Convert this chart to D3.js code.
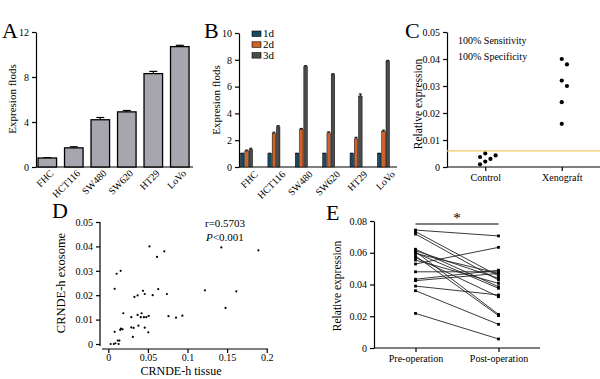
<!DOCTYPE html>
<html>
<head>
<meta charset="utf-8">
<script src="https://cdn.jsdelivr.net/npm/d3@7"></script>
<style>
  body { margin: 0; background: #fff; }
  svg { display: block; font-family: "Liberation Serif", "DejaVu Serif", serif; }
  .axis path, .axis line { stroke: #000; stroke-width: 1.2; }
  .axis text { font-size: 10px; fill: #000; }
</style>
</head>
<body>
<div id="chart"></div>
<script>
// A: CRNDE-h in cell lines
const cellLines = ['FHC', 'HCT116', 'SW480', 'SW620', 'HT29', 'LoVo']
const foldA = [0.8, 1.7, 4.2, 4.9, 8.3, 10.7]
const errA = [0.03, 0.1, 0.2, 0.12, 0.2, 0.12]

// B: time course
const days = ['1d', '2d', '3d']
const day1 = [1, 1, 1, 1, 1, 1]
const day2 = [1.2, 2.5, 2.8, 2.55, 2.1, 2.65]
const day3 = [1.3, 3.0, 7.5, 6.9, 5.3, 7.9]
const err1 = [0.03, 0.03, 0.03, 0.03, 0.03, 0.03]
const err2 = [0.06, 0.1, 0.08, 0.07, 0.12, 0.1]
const err3 = [0.1, 0.08, 0.06, 0.06, 0.15, 0.06]

// C: control vs xenograft
const groupsC = ['Control', 'Xenograft']
const controlExpr = [0.005, 0.0043, 0.0037, 0.003, 0.002, 0.001]
const xenoExpr = [0.040, 0.038, 0.032, 0.030, 0.024, 0.016]
const cutoff = 0.006

// D: tissue vs exosome
const tissue = [0.003, 0.007, 0.009, 0.012, 0.014, 0.013, 0.008, 0.015, 0.016, 0.018, 0.008, 0.0105, 0.0156, 0.019,
  0.029, 0.029, 0.032, 0.031, 0.033, 0.037, 0.037, 0.038, 0.041, 0.042, 0.0438, 0.046, 0.045, 0.048, 0.046,
  0.0505, 0.051, 0.052, 0.056, 0.0615, 0.063, 0.0707, 0.074, 0.076, 0.0855, 0.0935, 0.122, 0.1427, 0.148, 0.1617, 0.1895]
const exosome = [0, 0, 0.0003, 0.0014, 0.0014, 0, 0.005, 0.0058, 0.0063, 0.006, 0.0226, 0.0288, 0.030, 0.0126,
  0.011, 0.0068, 0.0066, 0.0029, 0.0193, 0.0199, 0.0119, 0.0075, 0.011, 0.0126, 0.0218, 0.0205, 0.011, 0.011, 0.0067,
  0.0048, 0.0115, 0.040, 0.020, 0.0357, 0.0225, 0.038, 0.0205, 0.0114, 0.0108, 0.0116, 0.022, 0.0396, 0.0148, 0.0216, 0.0384]

// E: paired pre/post operation
const groupsE = ['Pre-operation', 'Post-operation']
const preOp = [0.0743, 0.0733, 0.0718, 0.0622, 0.0613, 0.0607, 0.0600, 0.0596, 0.0580, 0.0570, 0.0554, 0.0529, 0.0480, 0.0433, 0.0424, 0.0390, 0.0361, 0.0218]
const postOp = [0.0706, 0.0454, 0.0428, 0.0386, 0.0439, 0.0212, 0.0376, 0.0470, 0.0204, 0.0323, 0.0407, 0.0634, 0.0480, 0.0490, 0.0470, 0.0334, 0.0149, 0.0057]

const serif = '"Liberation Serif", "DejaVu Serif", serif'

const svg = d3.select('#chart').append('svg')
  .attr('width', 600)
  .attr('height', 379)

const fmt = d => d === 0 ? '0' : String(+d.toFixed(2))

function axis (gen, transform, size = 10) {
  return svg.append('g')
    .attr('class', 'axis')
    .attr('transform', transform)
    .call(gen)
    .attr('font-family', serif)
    .attr('font-size', size)
}

function panelLabel (t, x, y) {
  svg.append('text').attr('x', x).attr('y', y).attr('font-size', 22).text(t)
}

function yTitle (t, x, y, size) {
  svg.append('text')
    .attr('transform', `translate(${x},${y}) rotate(-90)`)
    .attr('text-anchor', 'middle')
    .attr('dy', '0.35em')
    .attr('font-size', size)
    .text(t)
}

function hLine (x1, x2, y, color = '#000', w = 1.2) {
  svg.append('line').attr('x1', x1).attr('x2', x2).attr('y1', y).attr('y2', y)
    .attr('stroke', color).attr('stroke-width', w)
}

function rotatedLabels (scale, offset, y) {
  svg.append('g').selectAll('text')
    .data(scale.domain())
    .join('text')
    .attr('transform', d => `translate(${scale(d) + scale.bandwidth() / 2 + offset},${y}) rotate(-45)`)
    .attr('text-anchor', 'end')
    .attr('font-size', 10)
    .text(d => d)
}

panelLabel('A', 2, 38)
panelLabel('B', 204, 38)
panelLabel('C', 405, 38)
panelLabel('D', 52, 218)
panelLabel('E', 326, 220)

// ---------- A ----------
const yA = d3.scaleLinear().domain([0, 12]).range([167, 32])
const xA = d3.scaleBand().domain(cellLines).range([36.7, 190.4]).paddingInner(0.3).paddingOuter(0.05)

axis(d3.axisLeft(yA).tickValues([0, 4, 8, 12]).tickSize(4).tickSizeOuter(0), 'translate(36,0)')
hLine(36, 193, 167)

const barsA = svg.append('g')
cellLines.forEach((c, i) => {
  const cx = xA(c) + xA.bandwidth() / 2
  barsA.append('line').attr('x1', cx).attr('x2', cx)
    .attr('y1', yA(foldA[i])).attr('y2', yA(foldA[i] + errA[i])).attr('stroke', '#000').attr('stroke-width', 1.2)
  barsA.append('line').attr('x1', cx - 4).attr('x2', cx + 4)
    .attr('y1', yA(foldA[i] + errA[i])).attr('y2', yA(foldA[i] + errA[i])).attr('stroke', '#000').attr('stroke-width', 1.2)
  barsA.append('rect')
    .attr('x', xA(c)).attr('y', yA(foldA[i]))
    .attr('width', xA.bandwidth()).attr('height', yA(0) - yA(foldA[i]))
    .attr('fill', '#a7a6ae').attr('stroke', '#000').attr('stroke-width', 1.3)
})
rotatedLabels(xA, 7, 174)
yTitle('Expresion flods', 12, 99, 11)

// ---------- B ----------
const yB = d3.scaleLinear().domain([0, 10]).range([167, 33])
const xB = d3.scaleBand().domain(cellLines).range([239, 391]).paddingInner(0.56).paddingOuter(0.055)
const xBin = d3.scaleBand().domain(days).range([0, xB.bandwidth()]).paddingInner(0.18)
const dayColor = d3.scaleOrdinal().domain(days).range(['#184a61', '#d0622b', '#4b4b4b'])
const seriesB = [day1, day2, day3]
const errB = [err1, err2, err3]

axis(d3.axisLeft(yB).tickValues([0, 2, 4, 6, 8, 10]).tickSize(4).tickSizeOuter(0), 'translate(239,0)')
hLine(239, 397, 167)

const barsB = svg.append('g')
cellLines.forEach((c, i) => {
  days.forEach((d, j) => {
    const v = seriesB[j][i]
    const e = errB[j][i]
    const x = xB(c) + xBin(d)
    const cx = x + xBin.bandwidth() / 2
    barsB.append('line').attr('x1', cx).attr('x2', cx)
      .attr('y1', yB(v)).attr('y2', yB(v + e)).attr('stroke', '#000').attr('stroke-width', 1)
    barsB.append('line').attr('x1', cx - 1.5).attr('x2', cx + 1.5)
      .attr('y1', yB(v + e)).attr('y2', yB(v + e)).attr('stroke', '#000').attr('stroke-width', 1)
    barsB.append('rect')
      .attr('x', x).attr('y', yB(v))
      .attr('width', xBin.bandwidth()).attr('height', yB(0) - yB(v))
      .attr('fill', dayColor(d)).attr('stroke', '#000').attr('stroke-width', 0.5)
  })
})
rotatedLabels(xB, 12, 175)
yTitle('Expresion flods', 216, 100, 11)

const legB = svg.append('g').attr('transform', 'translate(252,31)')
days.forEach((d, j) => {
  const g = legB.append('g').attr('transform', `translate(0,${j * 10.8})`)
  g.append('rect').attr('width', 9).attr('height', 5.5)
    .attr('fill', dayColor(d)).attr('stroke', '#000').attr('stroke-width', 0.6)
  g.append('text').attr('x', 11).attr('y', 6).attr('font-size', 11).text(d)
})

// ---------- C ----------
const yC = d3.scaleLinear().domain([0, 0.05]).range([167, 32])
const xC = d3.scalePoint().domain(groupsC).range([447, 600]).padding(0.5)

axis(d3.axisLeft(yC).tickValues(d3.range(0, 0.051, 0.01)).tickFormat(fmt).tickSize(4).tickSizeOuter(0), 'translate(447,0)')
axis(d3.axisBottom(xC).tickSize(4).tickSizeOuter(0).tickPadding(3), 'translate(0,167)', 11)
  .call(g => g.select('.domain').attr('d', 'M447,0H600'))

hLine(447, 600, yC(cutoff), '#f1c868', 1.2)

function swarm (values, y, cx, minDist, step) {
  const placed = []
  const out = new Array(values.length)
  const order = values.map((v, i) => i).sort((a, b) => values[b] - values[a])
  order.forEach(i => {
    const py = y(values[i])
    for (let k = 0; k < 20; k++) {
      const px = cx + (k === 0 ? 0 : (k % 2 ? 1 : -1) * Math.ceil(k / 2) * step)
      if (placed.every(p => Math.hypot(p[0] - px, p[1] - py) >= minDist)) {
        placed.push([px, py])
        out[i] = [px, py]
        break
      }
    }
  })
  return out
}

const dotsC = svg.append('g')
;[[controlExpr, 'Control'], [xenoExpr, 'Xenograft']].forEach(([vals, g]) => {
  dotsC.selectAll(null)
    .data(swarm(vals, yC, xC(g), 5.6, 5.2))
    .join('circle')
    .attr('cx', d => d[0]).attr('cy', d => d[1]).attr('r', 2.1).attr('fill', '#000')
})
svg.append('text').attr('x', 458).attr('y', 44).attr('font-size', 10).text('100% Sensitivity')
svg.append('text').attr('x', 458).attr('y', 60).attr('font-size', 10).text('100% Specificity')
yTitle('Relative expression', 418, 104, 11.5)

// ---------- D ----------
const xD = d3.scaleLinear().domain([0, 0.2]).range([108.3, 266.7])
const yD = d3.scaleLinear().domain([0, 0.05]).range([344, 222])

axis(d3.axisLeft(yD).tickValues(d3.range(0, 0.051, 0.01)).tickFormat(fmt).tickSize(4).tickSizeOuter(0), 'translate(100,0)')
  .call(g => g.select('.domain').attr('d', 'M0,222V346'))
axis(d3.axisBottom(xD).tickValues([0, 0.05, 0.1, 0.15, 0.2]).tickFormat(fmt).tickSize(4).tickSizeOuter(0).tickPadding(1), 'translate(0,349)')
  .call(g => g.select('.domain').attr('d', 'M102,0H268'))

svg.append('g').selectAll('circle')
  .data(tissue.map((t, i) => [t, exosome[i]]))
  .join('circle')
  .attr('cx', d => xD(d[0])).attr('cy', d => yD(d[1])).attr('r', 1.1).attr('fill', '#000')

svg.append('text').attr('x', 205).attr('y', 227).attr('font-size', 11).text('r=0.5703')
svg.append('text').attr('x', 206).attr('y', 241).attr('font-size', 11)
  .html('<tspan font-style="italic">P</tspan>&lt;0.001')
svg.append('text').attr('x', 181).attr('y', 375).attr('text-anchor', 'middle').attr('font-size', 12).text('CRNDE-h tissue')
yTitle('CRNDE-h exosome', 61, 283, 12.5)

// ---------- E ----------
const yE = d3.scaleLinear().domain([0, 0.08]).range([348, 221])
const xE = d3.scalePoint().domain(groupsE).range([374, 540]).padding(0.5)

axis(d3.axisLeft(yE).tickValues(d3.range(0, 0.081, 0.02)).tickFormat(fmt).tickSize(4).tickSizeOuter(0), 'translate(374,0)')
axis(d3.axisBottom(xE).tickSize(4).tickSizeOuter(0).tickPadding(3), 'translate(0,348)', 11)
  .call(g => g.select('.domain').attr('d', 'M374,0H540'))

const pairs = preOp.map((p, i) => [p, postOp[i]])
const pairG = svg.append('g')
pairG.selectAll('line')
  .data(pairs)
  .join('line')
  .attr('x1', xE(groupsE[0])).attr('x2', xE(groupsE[1]))
  .attr('y1', d => yE(d[0])).attr('y2', d => yE(d[1]))
  .attr('stroke', '#222').attr('stroke-width', 0.9)
pairs.forEach(d => {
  d.forEach((v, j) => {
    pairG.append('rect')
      .attr('x', xE(groupsE[j]) - 1.4).attr('y', yE(v) - 1.4)
      .attr('width', 2.8).attr('height', 2.8).attr('fill', '#000')
  })
})
hLine(xE(groupsE[0]), xE(groupsE[1]), 224, '#000', 1)
svg.append('text').attr('x', (xE(groupsE[0]) + xE(groupsE[1])) / 2).attr('y', 223)
  .attr('text-anchor', 'middle').attr('font-size', 15).attr('fill', '#000').text('*')
yTitle('Relative expression', 337, 286, 11.5)
</script>
</body>
</html>
